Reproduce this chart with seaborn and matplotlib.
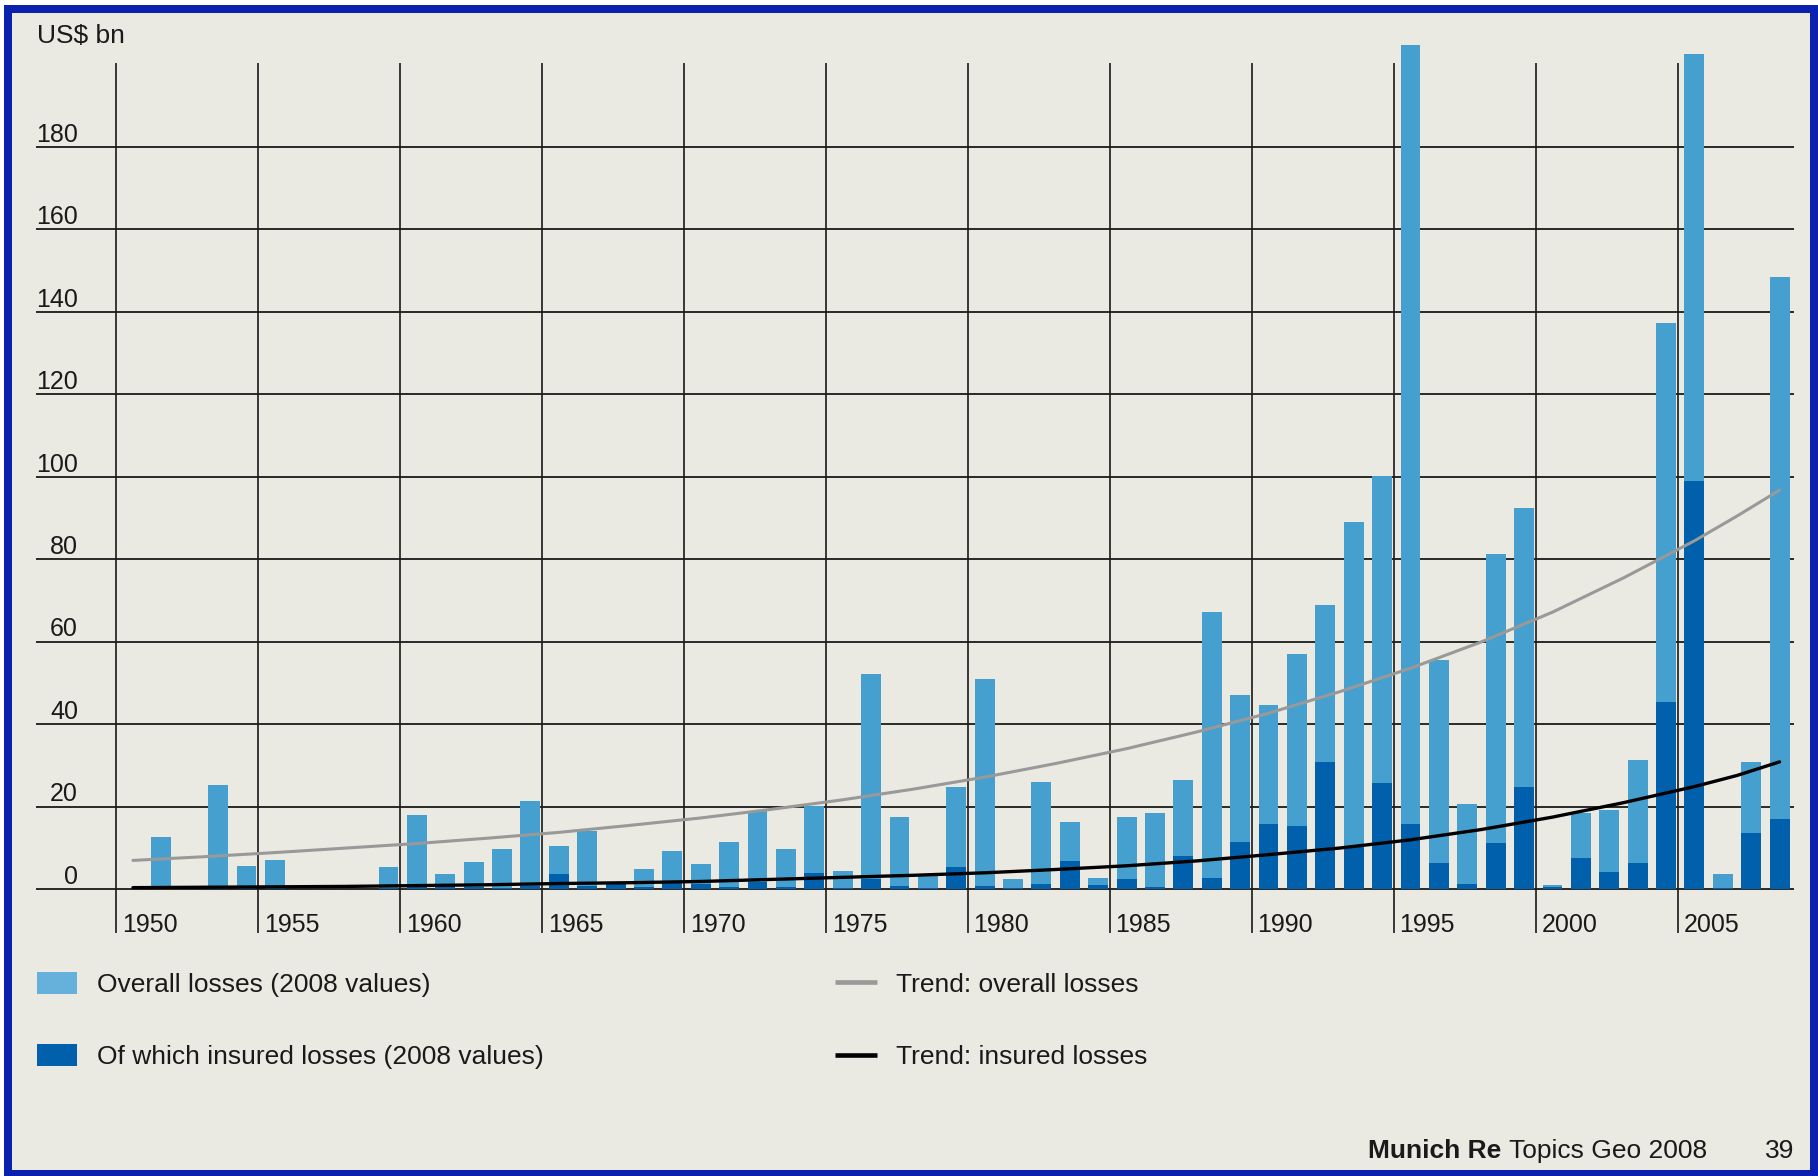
import matplotlib
matplotlib.use("Agg")
import matplotlib.pyplot as plt
from matplotlib.patches import Rectangle
from matplotlib.lines import Line2D
import seaborn as sns

# Great natural catastrophes 1950-2008, US$ bn (2008 values)
years = list(range(1950, 2009))
overall_losses = [
    0, 12.8, 0, 25.3, 5.7, 7.1, 0, 0, 0, 5.3,
    17.9, 3.6, 6.7, 9.7, 21.4, 10.6, 14.2, 1.5, 4.9, 9.3,
    6.2, 11.5, 19.0, 9.7, 20.1, 4.5, 52.1, 17.5, 3.2, 24.9,
    50.9, 2.4, 26.1, 16.2, 2.8, 17.5, 18.4, 26.6, 67.3, 47.0,
    44.7, 57.0, 69.0, 89.1, 100.3, 204.7, 55.5, 20.6, 81.3, 92.5,
    1.0, 18.4, 19.2, 31.4, 137.2, 202.5, 3.6, 30.9, 148.4,
]
insured_losses = [
    0, 0.2, 0, 0.3, 0.4, 0.2, 0, 0, 0, 0.3,
    0.5, 0.8, 0.6, 0.4, 0.9, 3.7, 0.8, 1.2, 0.6, 1.8,
    1.4, 0.6, 1.8, 0.6, 4.0, 0.4, 2.5, 0.7, 0.2, 5.4,
    0.8, 0.2, 1.2, 6.9, 1.0, 2.5, 0.6, 8.0, 2.8, 11.5,
    15.8, 15.4, 30.9, 10.3, 25.7, 15.8, 6.3, 1.4, 11.2, 24.9,
    0.5, 7.5, 4.1, 6.3, 45.5, 99.1, 0.3, 13.6, 17.0,
]
trend_years = [1950, 1952.5, 1955, 1957.5, 1960, 1962.5, 1965, 1967.5, 1970, 1972.5,
               1975, 1977.5, 1980, 1982.5, 1985, 1987.5, 1990, 1992.5, 1995, 1997.5,
               2000, 2002.5, 2005, 2006.5, 2008]
trend_overall = [7.0, 7.9, 8.9, 10.0, 11.1, 12.4, 13.8, 15.5, 17.3, 19.4,
                 21.7, 24.3, 27.2, 30.5, 34.1, 38.2, 42.7, 47.9, 53.6, 60.0,
                 67.2, 75.5, 84.5, 90.5, 96.8]
trend_insured = [0.4, 0.5, 0.6, 0.7, 0.9, 1.1, 1.4, 1.6, 1.9, 2.4,
                 2.9, 3.4, 4.0, 4.8, 5.7, 6.9, 8.4, 10.0, 12.0, 14.5,
                 17.5, 21.0, 24.9, 27.6, 30.9]

y_ticks = [0, 20, 40, 60, 80, 100, 120, 140, 160, 180]
x_ticks = [1950, 1955, 1960, 1965, 1970, 1975, 1980, 1985, 1990, 1995, 2000, 2005]

LIGHT = "#45a0cf"
DARK = "#0060ab"
LEG_LIGHT = "#66b1dc"
BG = "#eae9e2"
FRAME = "#0a20ae"
INK = "#1a1a1a"

sns.set_style("white")
plt.rcParams["font.family"] = ["Liberation Sans", "DejaVu Sans"]

W, H = 1818, 1176
fig = plt.figure(figsize=(W / 100, H / 100), dpi=100, facecolor="white")


def fx(px):
    return px / W


def fy(py):
    return 1 - py / H


# page frame
fig.add_artist(Rectangle((fx(4), 0), 1 - fx(4), fy(5), transform=fig.transFigure,
                         facecolor=FRAME, edgecolor="none", zorder=-2))
fig.add_artist(Rectangle((fx(12), fy(1170)), fx(1810) - fx(12), fy(13) - fy(1170),
                         transform=fig.transFigure, facecolor=BG, edgecolor="none", zorder=-1))

# axes box: x 35.6..1794 px, y 40..940 px
ax = fig.add_axes([fx(35.6), fy(940), fx(1794) - fx(35.6), (940 - 40) / H])
ax.set_facecolor("none")
off = 0.59  # year gridlines sit at the start of each year's slot
px_per_year = 28.39
x_left = (1950 - off) - (116.2 - 35.6) / px_per_year
x_right = (1950 - off) + (1794 - 116.2) / px_per_year
px_per_unit = 4.124
y_bottom = -(940 - 889.3) / px_per_unit
y_top = (889.3 - 40) / px_per_unit

# grid
ax.hlines(y_ticks, x_left, x_right, colors=INK, linewidth=1.3, zorder=0.5)
grid_x = [t - off for t in x_ticks]
ax.vlines(grid_x, -10.5, 200.4, colors=INK, linewidth=1.2, zorder=0.5)

# bars
sns.barplot(x=years, y=overall_losses, native_scale=True, width=0.7, color=LIGHT,
            saturation=1, errorbar=None, linewidth=0, ax=ax, zorder=1)
sns.barplot(x=years, y=insured_losses, native_scale=True, width=0.7, color=DARK,
            saturation=1, errorbar=None, linewidth=0, ax=ax, zorder=1.1)

# trend lines
sns.lineplot(x=trend_years, y=trend_overall, color="#999999", linewidth=2.2, ax=ax, zorder=3)
sns.lineplot(x=trend_years, y=trend_insured, color="#000000", linewidth=2.4, ax=ax, zorder=3.1)

ax.set_xlim(x_left, x_right)
ax.set_ylim(y_bottom, y_top)
ax.set_xticks([])
ax.set_yticks([])
ax.set_xlabel("")
ax.set_ylabel("")
for s in ax.spines.values():
    s.set_visible(False)

# tick labels
label_x = (1950 - off) - (116.2 - 78) / px_per_year
for v in y_ticks:
    ax.text(label_x, v + 1.3, str(v), ha="right", va="baseline", fontsize=18, color=INK)
for t, gx in zip(x_ticks, grid_x):
    ax.text(gx + 0.2, -10.3, str(t), ha="left", va="baseline", fontsize=18, color=INK)

fig.text(fx(37), fy(42.7), "US$ bn", ha="left", va="baseline", fontsize=19, color=INK)

# legend
fig.add_artist(Rectangle((fx(37), fy(993.6)), fx(76.5) - fx(37), 22 / H,
                         transform=fig.transFigure, facecolor=LEG_LIGHT, edgecolor="none"))
fig.add_artist(Rectangle((fx(37), fy(1065.5)), fx(76.5) - fx(37), 22 / H,
                         transform=fig.transFigure, facecolor=DARK, edgecolor="none"))
fig.add_artist(Line2D([fx(835), fx(876.5)], [fy(982), fy(982)], transform=fig.transFigure,
                      color="#999999", linewidth=3.3, solid_capstyle="butt"))
fig.add_artist(Line2D([fx(835), fx(876.5)], [fy(1055), fy(1055)], transform=fig.transFigure,
                      color="#000000", linewidth=3.3, solid_capstyle="butt"))
fig.text(fx(97), fy(992), "Overall losses (2008 values)", va="baseline", fontsize=19, color=INK)
fig.text(fx(97), fy(1064), "Of which insured losses (2008 values)", va="baseline", fontsize=19, color=INK)
fig.text(fx(896), fy(992), "Trend: overall losses", va="baseline", fontsize=19, color=INK)
fig.text(fx(896), fy(1064), "Trend: insured losses", va="baseline", fontsize=19, color=INK)

# footer
fig.text(fx(1368), fy(1158), "Munich Re", va="baseline", fontsize=19, fontweight="bold", color=INK)
fig.text(fx(1509), fy(1158), "Topics Geo 2008", ha="left", va="baseline", fontsize=19, color=INK)
fig.text(fx(1794), fy(1158), "39", ha="right", va="baseline", fontsize=19, color=INK)

fig.savefig("out.png", dpi=100, facecolor="white")
